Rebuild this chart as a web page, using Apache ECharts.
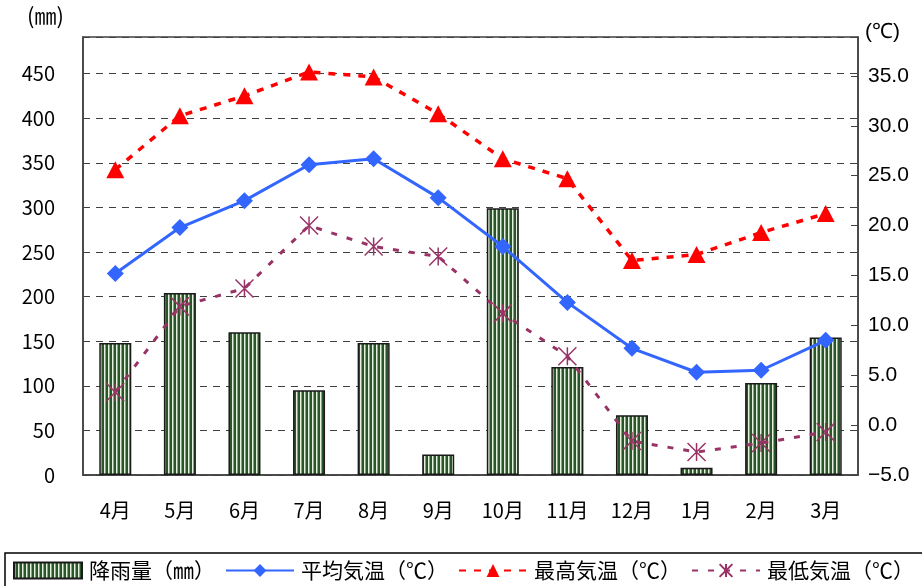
<!DOCTYPE html>
<html>
<head>
<meta charset="utf-8">
<script src="https://cdn.jsdelivr.net/npm/echarts@6/dist/echarts.min.js"></script>
<style>
  html, body { margin: 0; padding: 0; background: #fff; }
  #main { width: 922px; height: 586px; }
</style>
</head>
<body>
<div id="main"></div>
<script>
  // 月
  const months = ['4月', '5月', '6月', '7月', '8月', '9月', '10月', '11月', '12月', '1月', '2月', '3月'];
  // 降雨量 (mm)
  const rainfall = [148, 204, 160, 95, 148, 23, 299, 121, 67, 8, 103, 154];
  // 気温 (℃)
  const avgTemp = [15.2, 19.8, 22.5, 26.1, 26.7, 22.8, 17.9, 12.3, 7.7, 5.3, 5.5, 8.5];
  const maxTemp = [25.6, 31.0, 33.0, 35.4, 34.9, 31.2, 26.7, 24.7, 16.5, 17.1, 19.3, 21.2];
  const minTemp = [3.3, 11.9, 13.7, 20.0, 17.9, 16.9, 11.2, 6.9, -1.6, -2.7, -1.8, -0.7];

  const names = ['降雨量（㎜）', '平均気温（℃）', '最高気温（℃）', '最低気温（℃）'];

  // 縦縞の塗り
  function stripes() {
    const c = document.createElement('canvas');
    c.width = 4;
    c.height = 4;
    const ctx = c.getContext('2d');
    ctx.fillStyle = '#e6f1e0';
    ctx.fillRect(0, 0, 1, 4);
    ctx.fillStyle = '#7ea676';
    ctx.fillRect(1, 0, 1, 4);
    ctx.fillStyle = '#2a552a';
    ctx.fillRect(2, 0, 2, 4);
    return c;
  }

  const jp = 'Noto Sans CJK JP';
  const chart = echarts.init(document.getElementById('main'));

  const option = {
    animation: false,
    grid: {
      left: 83, right: 64, top: 37, bottom: 111,
      show: true, borderColor: '#404040', borderWidth: 1.5,
      outerBoundsMode: 'none'
    },
    graphic: [
      { type: 'text', left: 27, top: 5, style: { text: '(㎜)', font: '22px "Noto Sans CJK JP"', fill: '#000' } },
      { type: 'text', left: 865, top: 22, style: { text: '(℃)', font: '21px "Liberation Sans"', fill: '#000' } }
    ],
    legend: {
      left: 5, top: 553,
      width: 905,
      padding: [7, 30, 14, 8],
      borderColor: '#000', borderWidth: 1.5,
      itemWidth: 68, itemHeight: 16, itemGap: 10,
      textStyle: { fontFamily: jp, fontSize: 21, color: '#000', padding: [0, 0, 0, 2] },
      data: [
        { name: names[0], icon: 'rect' },
        { name: names[1] },
        { name: names[2] },
        { name: names[3] }
      ]
    },
    xAxis: {
      type: 'category',
      data: months,
      axisLine: { lineStyle: { color: '#404040', width: 1.5 } },
      axisTick: { inside: true, length: 6, lineStyle: { color: '#404040' } },
      axisLabel: { margin: 25, fontFamily: jp, fontSize: 20, color: '#000' }
    },
    yAxis: [
      {
        type: 'value', min: 0, max: 491, interval: 50,
        axisLine: { show: true, lineStyle: { color: '#404040', width: 1.5 } },
        axisTick: { show: true, inside: true, length: 5, lineStyle: { color: '#404040' } },
        axisLabel: {
          margin: 28, fontFamily: jp, fontSize: 20, color: '#000',
          formatter: v => (v % 50 === 0 ? String(v) : '')
        },
        splitLine: { show: true, lineStyle: { color: '#404040', type: [7, 6], width: 1 } }
      },
      {
        type: 'value', min: -5, max: 38.9, interval: 5, position: 'right',
        axisLine: { show: true, lineStyle: { color: '#404040', width: 1.5 } },
        axisTick: { show: true, inside: true, length: 7, lineStyle: { color: '#404040' } },
        axisLabel: {
          margin: 10, fontFamily: 'Liberation Sans', fontSize: 21, color: '#000',
          formatter: v => {
            if (Math.abs(v / 5 - Math.round(v / 5)) > 1e-6) return '';
            return v < 0 ? '\u2212' + Math.abs(v).toFixed(1) : v.toFixed(1);
          }
        },
        splitLine: { show: false }
      }
    ],
    series: [
      {
        name: names[0],
        type: 'bar',
        yAxisIndex: 0,
        barWidth: 32,
        data: rainfall,
        itemStyle: {
          color: { image: stripes(), repeat: 'repeat' },
          borderColor: '#1a1a1a',
          borderWidth: 1.5
        }
      },
      {
        name: names[1],
        type: 'line',
        yAxisIndex: 1,
        data: avgTemp,
        symbol: 'diamond',
        symbolSize: 17,
        lineStyle: { color: '#3366ff', width: 3 },
        itemStyle: { color: '#3366ff' },
        z: 4
      },
      {
        name: names[2],
        type: 'line',
        yAxisIndex: 1,
        data: maxTemp,
        symbol: 'triangle',
        symbolSize: [18, 17],
        lineStyle: { color: '#ff0000', width: 3.5, type: [7, 8] },
        itemStyle: { color: '#ff0000' },
        z: 3
      },
      {
        name: names[3],
        type: 'line',
        yAxisIndex: 1,
        data: minTemp,
        symbol: 'path://M0,0L20,20M20,0L0,20M10,0L10,20',
        symbolSize: [18, 18],
        lineStyle: { color: '#993366', width: 3, type: [6, 10] },
        itemStyle: { color: '#993366', borderColor: '#993366', borderWidth: 1.5 },
        z: 3
      }
    ]
  };

  chart.setOption(option);
</script>
</body>
</html>
